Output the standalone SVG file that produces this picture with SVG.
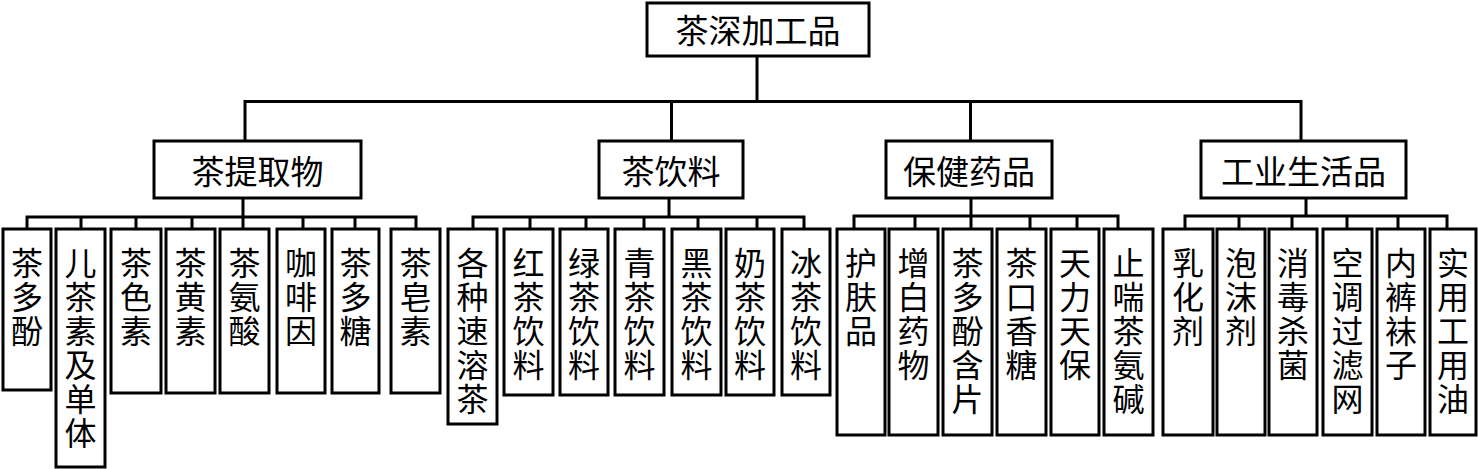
<svg xmlns="http://www.w3.org/2000/svg" width="1478" height="469" viewBox="0 0 1478 469">
<style>
rect.box{fill:#fff;stroke:#000;stroke-width:3}
.t{font-family:"Noto Sans CJK SC","Noto Sans CJK JP",sans-serif;fill:#000}
.h{font-size:33px;text-anchor:middle;dominant-baseline:central}
.v{font-size:32px;writing-mode:vertical-rl;text-orientation:upright;letter-spacing:2px;text-anchor:start}
#connectors path{fill:none;stroke:#000;stroke-width:3;stroke-linecap:square}
</style>
<rect width="1478" height="469" fill="#fff"/>
<g id="connectors">
<path d="M757,56V101.5M245,101.5H1301M245,101.5V141M671.5,101.5V141M970.5,101.5V141M1301,101.5V141"/>
<path d="M243,198V217M27,229V217H416V229M81,217V229M136,217V229M192,217V229M243,217V229M303,217V229M355,217V229"/>
<path d="M669,198V217M473,229V217H804V229M530,217V229M586,217V229M644,217V229M698,217V229M757,217V229"/>
<path d="M971,198V216M854,229V216H1118V229M915,216V229M971,216V229M1030,216V229M1077,216V229"/>
<path d="M1306,198V216M1185,229V216H1447V229M1239,216V229M1292,216V229M1347,216V229M1398,216V229"/>
</g>
<g id="root"><rect class="box" x="647" y="3" width="222" height="53"/><text class="t h" x="758" y="29">茶深加工品</text></g>
<g id="c1"><rect class="box" x="154" y="141" width="207" height="57"/><text class="t h" x="257.5" y="170">茶提取物</text></g>
<g id="c2"><rect class="box" x="599" y="141" width="144" height="57"/><text class="t h" x="671" y="170">茶饮料</text></g>
<g id="c3"><rect class="box" x="886" y="141" width="166" height="57"/><text class="t h" x="969" y="170">保健药品</text></g>
<g id="c4"><rect class="box" x="1201" y="141" width="205" height="57"/><text class="t h" x="1303.5" y="170">工业生活品</text></g>

<g id="l1"><rect class="box" x="3" y="229" width="48" height="161"/><text class="t v" x="27" y="247">茶多酚</text></g>
<g id="l2"><rect class="box" x="56" y="229" width="49" height="238"/><text class="t v" x="80.5" y="247">儿茶素及单体</text></g>
<g id="l3"><rect class="box" x="111" y="229" width="50" height="164"/><text class="t v" x="136" y="247">茶色素</text></g>
<g id="l4"><rect class="box" x="166" y="229" width="49" height="164"/><text class="t v" x="190.5" y="247">茶黄素</text></g>
<g id="l5"><rect class="box" x="220" y="229" width="49" height="164"/><text class="t v" x="244.5" y="247">茶氨酸</text></g>
<g id="l6"><rect class="box" x="277" y="229" width="48" height="164"/><text class="t v" x="301" y="247">咖啡因</text></g>
<g id="l7"><rect class="box" x="332" y="229" width="47" height="164"/><text class="t v" x="355.5" y="247">茶多糖</text></g>
<g id="l8"><rect class="box" x="391" y="229" width="49" height="164"/><text class="t v" x="415.5" y="247">茶皂素</text></g>

<g id="l9"><rect class="box" x="448" y="229" width="49" height="195"/><text class="t v" x="472.5" y="247">各种速溶茶</text></g>
<g id="l10"><rect class="box" x="504" y="229" width="49" height="166"/><text class="t v" x="528.5" y="247">红茶饮料</text></g>
<g id="l11"><rect class="box" x="560" y="229" width="48" height="166"/><text class="t v" x="584" y="247">绿茶饮料</text></g>
<g id="l12"><rect class="box" x="615" y="229" width="49" height="166"/><text class="t v" x="639.5" y="247">青茶饮料</text></g>
<g id="l13"><rect class="box" x="672" y="229" width="49" height="166"/><text class="t v" x="696.5" y="247">黑茶饮料</text></g>
<g id="l14"><rect class="box" x="726" y="229" width="48" height="166"/><text class="t v" x="750" y="247">奶茶饮料</text></g>
<g id="l15"><rect class="box" x="782" y="229" width="48" height="166"/><text class="t v" x="806" y="247">冰茶饮料</text></g>

<g id="l16"><rect class="box" x="837" y="229" width="48" height="206"/><text class="t v" x="861" y="247">护肤品</text></g>
<g id="l17"><rect class="box" x="889" y="229" width="49" height="206"/><text class="t v" x="913.5" y="247">增白药物</text></g>
<g id="l18"><rect class="box" x="943" y="229" width="49" height="206"/><text class="t v" x="967.5" y="247">茶多酚含片</text></g>
<g id="l19"><rect class="box" x="997" y="229" width="49" height="206"/><text class="t v" x="1021.5" y="247">茶口香糖</text></g>
<g id="l20"><rect class="box" x="1051" y="229" width="48" height="206"/><text class="t v" x="1075" y="247">天力天保</text></g>
<g id="l21"><rect class="box" x="1104" y="229" width="49" height="206"/><text class="t v" x="1128.5" y="247">止喘茶氨碱</text></g>

<g id="l22"><rect class="box" x="1163" y="229" width="50" height="206"/><text class="t v" x="1188" y="247">乳化剂</text></g>
<g id="l23"><rect class="box" x="1217" y="229" width="48" height="206"/><text class="t v" x="1241" y="247">泡沫剂</text></g>
<g id="l24"><rect class="box" x="1269" y="229" width="48" height="206"/><text class="t v" x="1293" y="247">消毒杀菌</text></g>
<g id="l25"><rect class="box" x="1323" y="229" width="49" height="206"/><text class="t v" x="1347.5" y="247">空调过滤网</text></g>
<g id="l26"><rect class="box" x="1377" y="229" width="48" height="206"/><text class="t v" x="1401" y="247">内裤袜子</text></g>
<g id="l27"><rect class="box" x="1430" y="229" width="46" height="206"/><text class="t v" x="1453" y="247">实用工用油</text></g>
</svg>
